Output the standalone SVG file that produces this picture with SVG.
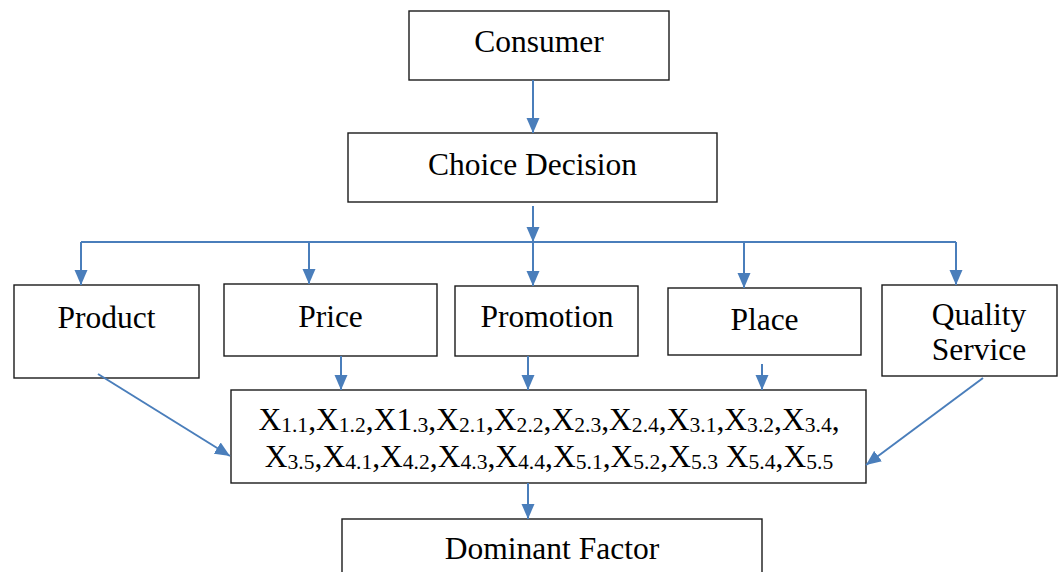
<svg xmlns="http://www.w3.org/2000/svg" width="1064" height="572" viewBox="0 0 1064 572">
<defs>
<marker id="ah" markerUnits="userSpaceOnUse" markerWidth="15" markerHeight="14" viewBox="0 0 15 13" refX="15" refY="6.5" orient="auto">
<path d="M0,0 L15,6.5 L0,13 Z" fill="#4a7ebb"/>
</marker>
<style>
.box{fill:#fff;stroke:#1a1a1a;stroke-width:1.4}
.t{font-family:"Liberation Serif","Times New Roman",serif;font-size:31.5px;fill:#000;text-anchor:middle}
.c{fill:none;stroke:#4a7ebb;stroke-width:2}
.a{marker-end:url(#ah)}
.s{font-size:21.6px}
</style>
</defs>
<rect width="1064" height="572" fill="#fff"/>
<g id="consumer"><rect class="box" x="409" y="11" width="260" height="69"/><text class="t" x="539" y="52">Consumer</text></g>
<g id="choice"><rect class="box" x="348" y="133" width="369" height="69"/><text class="t" x="532.5" y="175">Choice Decision</text></g>
<g id="product"><rect class="box" x="14" y="285" width="185" height="93"/><text class="t" x="106.5" y="328">Product</text></g>
<g id="price"><rect class="box" x="224" y="284" width="213" height="72"/><text class="t" x="330.5" y="327">Price</text></g>
<g id="promotion"><rect class="box" x="455" y="286" width="183" height="70"/><text class="t" x="547" y="327">Promotion</text></g>
<g id="place"><rect class="box" x="668" y="288" width="193" height="67"/><text class="t" x="764.5" y="330">Place</text></g>
<g id="quality"><rect class="box" x="882" y="285" width="175" height="91"/><text class="t" x="979" y="325">Quality</text><text class="t" x="979" y="360">Service</text></g>
<g id="factors"><rect class="box" x="231" y="390" width="635" height="93"/>
<text class="t" x="549" y="430">X<tspan class="s" dy="2">1.1</tspan><tspan dy="-2">,X</tspan><tspan class="s" dy="2">1.2</tspan><tspan dy="-2">,X1</tspan><tspan class="s" dy="2">.3</tspan><tspan dy="-2">,X</tspan><tspan class="s" dy="2">2.1</tspan><tspan dy="-2">,X</tspan><tspan class="s" dy="2">2.2</tspan><tspan dy="-2">,X</tspan><tspan class="s" dy="2">2.3</tspan><tspan dy="-2">,X</tspan><tspan class="s" dy="2">2.4</tspan><tspan dy="-2">,X</tspan><tspan class="s" dy="2">3.1</tspan><tspan dy="-2">,X</tspan><tspan class="s" dy="2">3.2</tspan><tspan dy="-2">,X</tspan><tspan class="s" dy="2">3.4</tspan><tspan dy="-2">,</tspan></text>
<text class="t" x="549" y="467">X<tspan class="s" dy="2">3.5</tspan><tspan dy="-2">,X</tspan><tspan class="s" dy="2">4.1</tspan><tspan dy="-2">,X</tspan><tspan class="s" dy="2">4.2</tspan><tspan dy="-2">,X</tspan><tspan class="s" dy="2">4.3</tspan><tspan dy="-2">,X</tspan><tspan class="s" dy="2">4.4</tspan><tspan dy="-2">,X</tspan><tspan class="s" dy="2">5.1</tspan><tspan dy="-2">,X</tspan><tspan class="s" dy="2">5.2</tspan><tspan dy="-2">,X</tspan><tspan class="s" dy="2">5.3</tspan><tspan dy="-2"> X</tspan><tspan class="s" dy="2">5.4</tspan><tspan dy="-2">,X</tspan><tspan class="s" dy="2">5.5</tspan></text>
</g>
<g id="dominant"><rect class="box" x="342" y="519" width="420" height="70"/><text class="t" x="552" y="559">Dominant Factor</text></g>
<g id="connectors">
<line class="c a" x1="533" y1="80" x2="533" y2="133"/>
<line class="c a" x1="533" y1="206" x2="533" y2="242"/>
<line class="c" x1="81" y1="242" x2="956" y2="242"/>
<line class="c a" x1="81" y1="242" x2="81" y2="285"/>
<line class="c a" x1="309" y1="242" x2="309" y2="284"/>
<line class="c a" x1="533" y1="242" x2="533" y2="286"/>
<line class="c a" x1="744" y1="242" x2="744" y2="288"/>
<line class="c a" x1="956" y1="242" x2="956" y2="285"/>
<line class="c a" x1="341" y1="356" x2="341" y2="390"/>
<line class="c a" x1="528" y1="356" x2="528" y2="390"/>
<line class="c a" x1="762" y1="364" x2="762" y2="390"/>
<line class="c a" x1="98" y1="374" x2="230" y2="456"/>
<line class="c a" x1="983" y1="378" x2="866" y2="465"/>
<line class="c a" x1="528" y1="483" x2="528" y2="519"/>
</g>
</svg>
